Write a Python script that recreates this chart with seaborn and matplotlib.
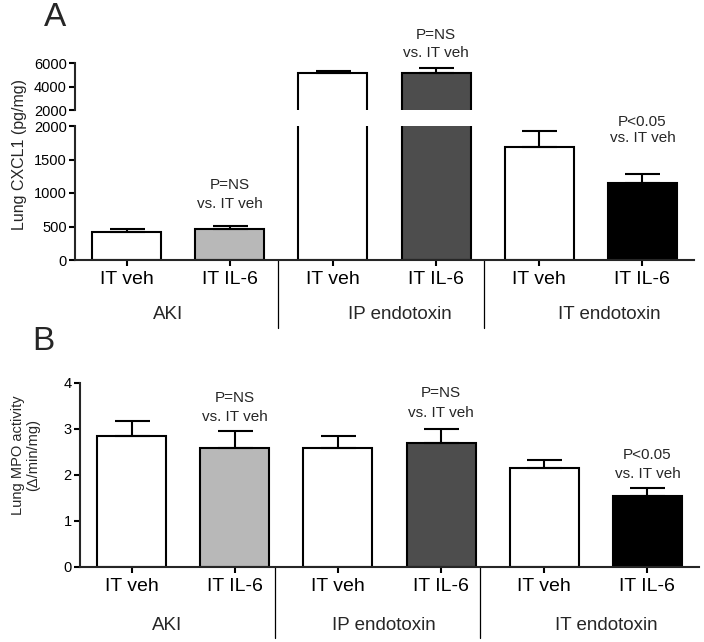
import numpy as np
import pandas as pd
import matplotlib
matplotlib.use("Agg")
import matplotlib.pyplot as plt
import seaborn as sns
from matplotlib.transforms import blended_transform_factory

# ---------------- data ----------------
groups = ["AKI", "AKI", "IP endotoxin", "IP endotoxin", "IT endotoxin", "IT endotoxin"]
treatments = ["IT veh", "IT IL-6", "IT veh", "IT IL-6", "IT veh", "IT IL-6"]
cxcl1_mean = [425, 462, 5140, 5140, 1685, 1150]
cxcl1_sem = [45, 45, 225, 430, 235, 130]
mpo_mean = [2.85, 2.59, 2.59, 2.68, 2.14, 1.54]
mpo_sem = [0.32, 0.36, 0.25, 0.31, 0.18, 0.18]
bar_colors = ["#ffffff", "#b8b8b8", "#ffffff", "#4d4d4d", "#ffffff", "#000000"]
group_names = ["AKI", "IP endotoxin", "IT endotoxin"]
annot_top = "P=NS"
annot_bottom = "vs. IT veh"
annot_sig = "P<0.05"

keys = [f"{g}|{t}" for g, t in zip(groups, treatments)]
df = pd.DataFrame({"key": keys, "group": groups, "treat": treatments,
                   "cxcl1": cxcl1_mean, "cxcl1_sem": cxcl1_sem,
                   "mpo": mpo_mean, "mpo_sem": mpo_sem})
palette = dict(zip(keys, bar_colors))

sns.set_theme(style="ticks")
plt.rcParams["font.family"] = ["Liberation Sans", "DejaVu Sans"]
plt.rcParams["axes.linewidth"] = 1.5

W, H = 704, 642
fig = plt.figure(figsize=(W / 100, H / 100), dpi=100)


def frac(left, top, right, bottom):
    return [left / W, 1 - bottom / H, (right - left) / W, (bottom - top) / H]


axA_top = fig.add_axes(frac(75, 63.3, 694, 110))
axA = fig.add_axes(frac(75, 126, 694, 260))
axB = fig.add_axes(frac(80, 382.7, 699, 566.7))


def draw_bars(ax, col, err, ymin, ymax):
    sns.barplot(data=df, x="key", y=col, hue="key", palette=palette, order=keys,
                hue_order=keys, dodge=False, legend=False, width=0.67, saturation=1,
                edgecolor="black", linewidth=1.5, errorbar=None, ax=ax)
    vals = df[col].to_numpy(dtype=float)
    errs = df[err].to_numpy(dtype=float)
    pos = np.arange(len(keys))
    show = (vals + errs > ymin) & (vals < ymax)
    ax.errorbar(pos[show], vals[show], yerr=[np.zeros(show.sum()), errs[show]],
                fmt="none", ecolor="black", elinewidth=1.5, capsize=12.6,
                capthick=1.5, zorder=3)
    ax.set_xlim(-0.5, len(keys) - 0.5)
    ax.set_ylim(ymin, ymax)
    ax.set_xlabel("")
    ax.set_ylabel("")
    ax.set_facecolor("none")
    for s in ["top", "right"]:
        ax.spines[s].set_visible(False)
    for s in ["left", "bottom"]:
        ax.spines[s].set_linewidth(1.5)
    ax.tick_params(axis="y", direction="out", length=4, width=1.5, pad=2,
                   labelsize=10.5, color="black", labelcolor="black")
    ax.tick_params(axis="x", direction="out", length=4, width=1.5, pad=4,
                   labelsize=14, color="black", labelcolor="black")


draw_bars(axA_top, "cxcl1", "cxcl1_sem", 2000, 6000)
draw_bars(axA, "cxcl1", "cxcl1_sem", 0, 2000)
draw_bars(axB, "mpo", "mpo_sem", 0, 4)

axA_top.set_yticks([2000, 4000, 6000])
axA_top.spines["bottom"].set_visible(False)
axA_top.set_xticks([])

axA.set_yticks([0, 500, 1000, 1500, 2000])
axB.set_yticks([0, 1, 2, 3, 4])

for ax in (axA, axB):
    ax.set_xticks(range(len(keys)))
    ax.set_xticklabels(treatments)


def decorate(ax, seps, sep_bottom, label_x, label_y):
    tr = blended_transform_factory(ax.transData, ax.transAxes)
    for s in seps:
        ax.plot([s, s], [0, sep_bottom], transform=tr, color="black", lw=0.9,
                clip_on=False)
    for x, name in zip(label_x, group_names):
        ax.text(x, label_y, name, transform=tr, ha="center", va="center", fontsize=13.5)


decorate(axA, [1.47, 3.46], -0.507, [0.40, 2.65, 4.68], -0.41)
decorate(axB, [1.39, 3.38], -0.388, [0.34, 2.45, 4.60], -0.317)


def annot(ax, i, top_val, first, offs):
    for txt, off in zip([first, annot_bottom], offs):
        ax.annotate(txt, xy=(i, top_val), xytext=(0, off * 0.72),
                    textcoords="offset points", ha="center", va="center",
                    fontsize=11, annotation_clip=False)


tops_A = [m + s for m, s in zip(cxcl1_mean, cxcl1_sem)]
tops_B = [m + s for m, s in zip(mpo_mean, mpo_sem)]
annot(axA, 1, tops_A[1], annot_top, [41, 22])
annot(axA_top, 3, tops_A[3], annot_top, [33, 15])
annot(axA, 5, tops_A[5], annot_sig, [52, 36])
annot(axB, 1, tops_B[1], annot_top, [33, 14])
annot(axB, 3, tops_B[3], annot_top, [36, 16])
annot(axB, 5, tops_B[5], annot_sig, [33, 14])

fig.text(55 / W, 1 - 17 / H, "A", fontsize=24, ha="center", va="center")
fig.text(43 / W, 1 - 342 / H, "B", fontsize=24, ha="center", va="center")
fig.text(20 / W, 1 - 155 / H, "Lung CXCL1 (pg/mg)", rotation=90, ha="center",
         va="center", fontsize=11.5)
fig.text(26 / W, 1 - 455 / H, "Lung MPO activity\n(\u0394/min/mg)", rotation=90,
         ha="center", va="center", fontsize=10.5, multialignment="center",
         linespacing=1.1)

fig.savefig("out.png", dpi=100)
